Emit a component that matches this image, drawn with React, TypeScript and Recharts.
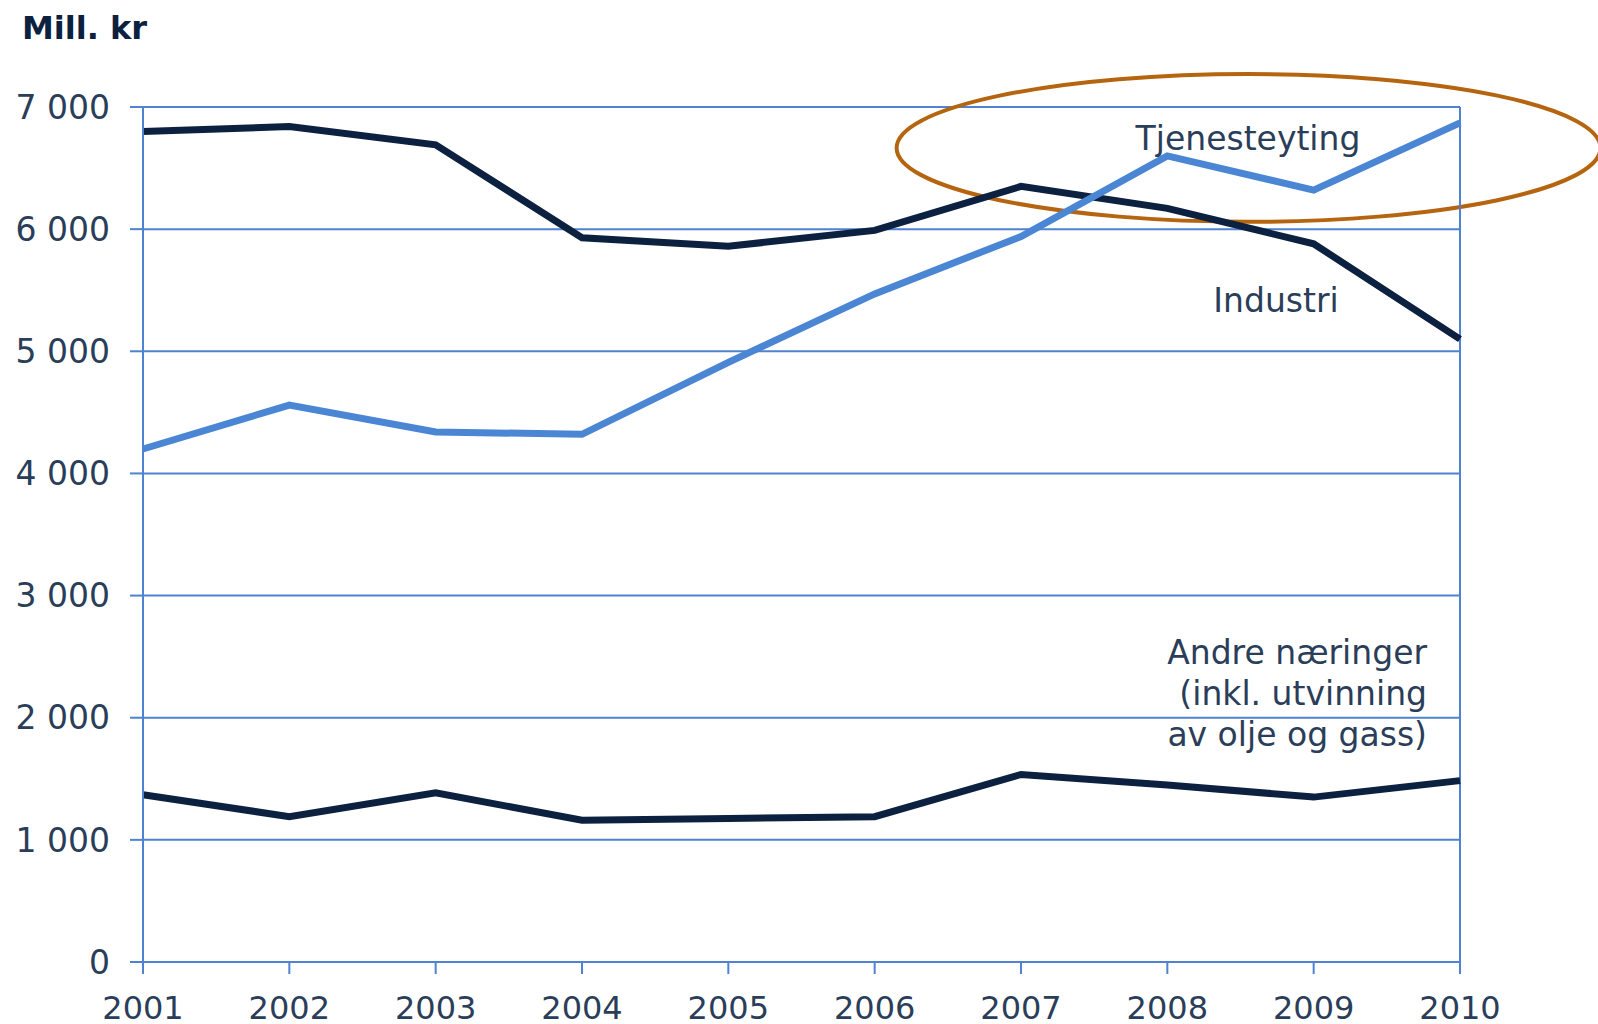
import React from 'react';
import { LineChart, Line, XAxis, YAxis, CartesianGrid, ReferenceLine, ReferenceArea } from 'recharts';

const years = [2001, 2002, 2003, 2004, 2005, 2006, 2007, 2008, 2009, 2010];
const industri = [6800, 6840, 6690, 5930, 5860, 5990, 6350, 6170, 5880, 5100];
const tjenesteyting = [4200, 4560, 4340, 4320, 4910, 5470, 5940, 6600, 6320, 6870];
const andre = [1370, 1190, 1385, 1160, 1175, 1190, 1535, 1450, 1350, 1485];
const yTicks = [0, 1000, 2000, 3000, 4000, 5000, 6000, 7000];
const yTickLabels = ['0', '1 000', '2 000', '3 000', '4 000', '5 000', '6 000', '7 000'];
const unitLabel = 'Mill. kr';
const labelTjeneste = 'Tjenesteyting';
const labelIndustri = 'Industri';
const labelAndre = ['Andre næringer', '(inkl. utvinning', 'av olje og gass)'];
// highlight ellipse bounds in data units
const ellipseX = [2006.15, 2010.96];
const ellipseY = [6060, 7270];

const data = years.map((y, i) => ({
  year: y,
  industri: industri[i],
  tjenesteyting: tjenesteyting[i],
  andre: andre[i],
}));

const GRID = '#4f82d2';
const DARK = '#0c2140';
const BLUE = '#4a86d4';
const TEXT = '#2a3d59';
const FONT = '"DejaVu Sans", Verdana, sans-serif';

const EllipseShape = (props: any) => {
  const { x, y, width, height } = props;
  return (
    <ellipse
      cx={x + width / 2}
      cy={y + height / 2}
      rx={Math.abs(width) / 2}
      ry={Math.abs(height) / 2}
      fill="none"
      stroke="#b5650f"
      strokeWidth={4}
    />
  );
};

export default function App() {
  return (
    <div style={{ position: 'absolute', left: 0, top: 0, width: 1598, height: 1024, background: '#fff', overflow: 'hidden' }}>
      <LineChart
        width={1598}
        height={1024}
        data={data}
        margin={{ top: 107, right: 138, bottom: 0, left: 0 }}
      >
        <CartesianGrid vertical={false} stroke={GRID} strokeWidth={2} />
        <XAxis
          dataKey="year"
          type="number"
          domain={[2001, 2010]}
          ticks={years}
          height={62}
          axisLine={{ stroke: GRID, strokeWidth: 2 }}
          tickLine={{ stroke: GRID, strokeWidth: 2 }}
          tickSize={12}
          tickMargin={22}
          tick={{ fill: TEXT, fontSize: 32, fontFamily: FONT }}
          interval={0}
        />
        <YAxis
          domain={[0, 7000]}
          ticks={yTicks}
          width={143}
          axisLine={{ stroke: GRID, strokeWidth: 2 }}
          tickLine={{ stroke: GRID, strokeWidth: 2 }}
          tickSize={13}
          tickMargin={20}
          tick={{ fill: TEXT, fontSize: 33, fontFamily: FONT }}
          tickFormatter={(v: number) => yTickLabels[yTicks.indexOf(v)]}
          interval={0}
        />
        <ReferenceLine x={2010} stroke={GRID} strokeWidth={2} />
        <Line
          dataKey="andre"
          stroke={DARK}
          strokeWidth={7}
          dot={false}
          isAnimationActive={false}
          strokeLinejoin="miter"
        />
        <Line
          dataKey="industri"
          stroke={DARK}
          strokeWidth={7}
          dot={false}
          isAnimationActive={false}
          strokeLinejoin="miter"
        />
        <Line
          dataKey="tjenesteyting"
          stroke={BLUE}
          strokeWidth={7}
          dot={false}
          isAnimationActive={false}
          strokeLinejoin="miter"
        />
        <ReferenceArea
          x1={ellipseX[0]}
          x2={ellipseX[1]}
          y1={ellipseY[0]}
          y2={ellipseY[1]}
          ifOverflow="visible"
          shape={EllipseShape}
        />
      </LineChart>
      <svg
        width={1598}
        height={1024}
        style={{ position: 'absolute', left: 0, top: 0, pointerEvents: 'none' }}
      >
        <text x={22} y={39} fontFamily={FONT} fontWeight="bold" fontSize={32} fill={DARK}>
          {unitLabel}
        </text>
        <text x={1248} y={150} textAnchor="middle" fontFamily={FONT} fontSize={33} fill={TEXT}>
          {labelTjeneste}
        </text>
        <text x={1276} y={312} textAnchor="middle" fontFamily={FONT} fontSize={33} fill={TEXT}>
          {labelIndustri}
        </text>
        {labelAndre.map((t, i) => (
          <text
            key={t}
            x={1427}
            y={664 + i * 41}
            textAnchor="end"
            fontFamily={FONT}
            fontSize={33}
            fill={TEXT}
          >
            {t}
          </text>
        ))}
      </svg>
    </div>
  );
}
